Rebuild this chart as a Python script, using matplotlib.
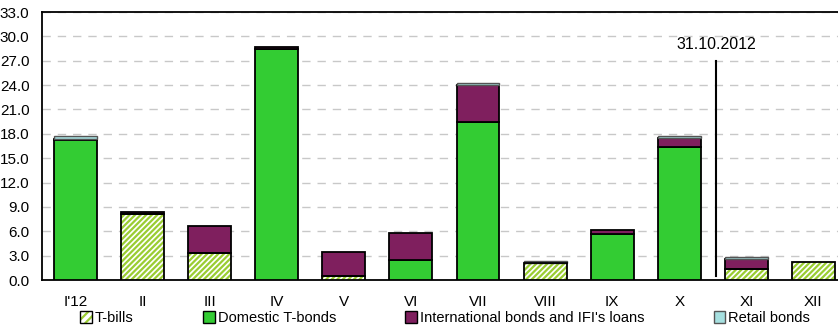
import numpy as np
import matplotlib.pyplot as plt
from matplotlib.patches import Patch

plt.rcParams['font.family'] = ['Liberation Sans', 'DejaVu Sans']
plt.rcParams['font.size'] = 10
plt.rcParams['hatch.linewidth'] = 1.6

months = ["I'12", "II", "III", "IV", "V", "VI", "VII", "VIII", "IX", "X", "XI", "XII"]
t_bills = [0.0, 8.15, 3.3, 0.0, 0.45, 0.0, 0.0, 2.05, 0.0, 0.0, 1.35, 2.25]
domestic = [17.3, 0.0, 0.0, 28.5, 0.0, 2.5, 19.45, 0.0, 5.7, 16.4, 0.0, 0.0]
international = [0.1, 0.25, 3.3, 0.2, 3.05, 3.35, 4.6, 0.0, 0.45, 1.1, 1.25, 0.0]
retail = [0.35, 0.0, 0.0, 0.0, 0.0, 0.0, 0.2, 0.25, 0.0, 0.2, 0.2, 0.0]

cutoff_label = "31.10.2012"
cutoff_pos = 9.55
cutoff_span = (0.5, 27.0)

c_bills = '#9acd32'
c_dom = '#33cc33'
c_int = '#7f1f5e'
c_ret = '#a6e0e0'
hatch = '//////'

fig = plt.figure(figsize=(8.38, 3.29), dpi=100)
ax = fig.add_axes([0.0501, 0.1489, 0.9606, 0.8146])

x = np.arange(len(months))
w = 0.64


def stack(vals, bottom, **kw):
    vals = np.asarray(vals)
    m = vals > 0
    ax.bar(x[m], vals[m], w, bottom=bottom[m], zorder=3, **kw)
    return bottom + vals


base = np.zeros(len(months))
# hatched T-bills: stripes first, black outline on top
tb = np.asarray(t_bills)
m = tb > 0
ax.bar(x[m], tb[m], w, color='white', edgecolor=c_bills, hatch=hatch,
       linewidth=0, zorder=3)
ax.bar(x[m], tb[m], w, fill=False, edgecolor='black', linewidth=1.3, zorder=4)
base = base + tb
base = stack(domestic, base, color=c_dom, edgecolor='black', linewidth=1.3)
base = stack(international, base, color=c_int, edgecolor='black', linewidth=1.3)
base = stack(retail, base, color=c_ret, edgecolor='#555555', linewidth=1.0)

ax.plot([cutoff_pos, cutoff_pos], cutoff_span, color='black', lw=1.5, zorder=5)
ax.text(cutoff_pos, cutoff_span[1] + 1.1, cutoff_label, ha='center',
        va='bottom', fontsize=11.5)

ax.set_xlim(-0.5, 11.5)
ax.set_ylim(0, 33)
ticks = np.arange(0, 33.1, 3)
ax.set_yticks(ticks)
ax.set_yticklabels([f'{v:.1f}' for v in ticks], fontsize=11)
ax.set_xticks(x)
ax.set_xticklabels(months, fontsize=11)
ax.tick_params(axis='y', length=0, pad=9)
ax.tick_params(axis='x', length=0, pad=11)
ax.grid(axis='y', color='#c8c8c8', linestyle=(0, (6, 5)), lw=1.0, zorder=0)
for s in ax.spines.values():
    s.set_linewidth(1.3)

bills_handle = (Patch(facecolor='white', edgecolor=c_bills, hatch='////', lw=0),
                Patch(fill=False, edgecolor='black', lw=1.0))
handles = [
    bills_handle,
    Patch(facecolor=c_dom, edgecolor='black'),
    Patch(facecolor=c_int, edgecolor='black'),
    Patch(facecolor=c_ret, edgecolor='#555555'),
]
labels = ['T-bills', 'Domestic T-bonds', "International bonds and IFI's loans",
          'Retail bonds']
fig.legend(handles, labels, loc='center left', bbox_to_anchor=(0.096, 0.033),
           ncol=4, frameon=False, fontsize=10.5, handlelength=0.8,
           handleheight=0.8, handletextpad=0.2, columnspacing=4.75,
           borderpad=0, borderaxespad=0)

fig.savefig('out.png', dpi=100)
